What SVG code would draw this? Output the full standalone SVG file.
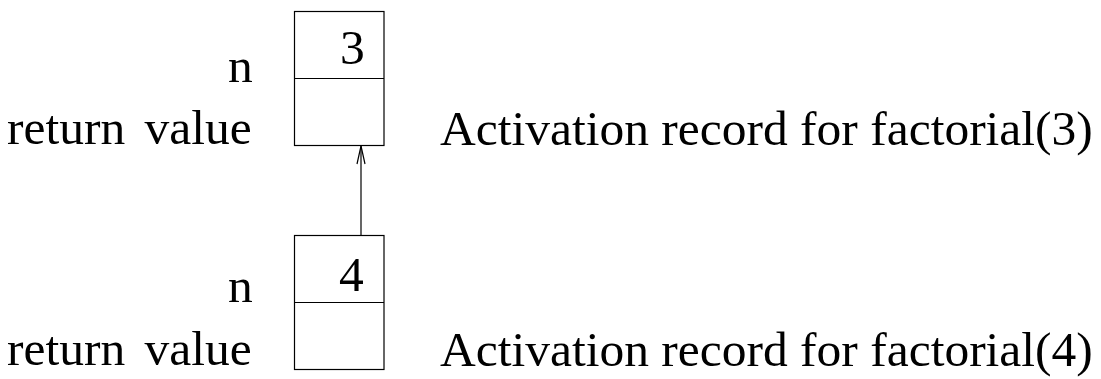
<svg xmlns="http://www.w3.org/2000/svg" width="1101" height="379" viewBox="0 0 1101 379">
<style>
text { font-family: "Liberation Serif", "Times New Roman", serif; font-size: 49.5px; fill: #000; }
.rv { word-spacing: 7px; }
.box { fill: #fff; stroke: #000; stroke-width: 1.2; }
.conn { stroke: #000; stroke-width: 1.2; fill: none; }
</style>
<rect width="1101" height="379" fill="#fff"/>
<g id="labels-top">
<text x="228" y="82">n</text>
<text class="rv" x="7" y="144">return value</text>
<text x="440" y="145">Activation record for factorial(3)</text>
</g>
<g id="node-record3">
<rect class="box" x="294.5" y="11.5" width="89.5" height="134"/>
<line class="conn" x1="294.5" y1="78.5" x2="384" y2="78.5"/>
<text x="340" y="64">3</text>
</g>
<g id="labels-bottom">
<text x="228" y="302">n</text>
<text class="rv" x="7" y="365">return value</text>
<text x="440" y="366">Activation record for factorial(4)</text>
</g>
<g id="node-record4">
<rect class="box" x="294.5" y="235.5" width="89.5" height="134"/>
<line class="conn" x1="294.5" y1="302.5" x2="384" y2="302.5"/>
<text x="339" y="291">4</text>
</g>
<g id="connectors">
<line class="conn" x1="361" y1="235" x2="361" y2="146"/>
<path class="conn" d="M357,164 L361,146 L365,164"/>
</g>
</svg>
